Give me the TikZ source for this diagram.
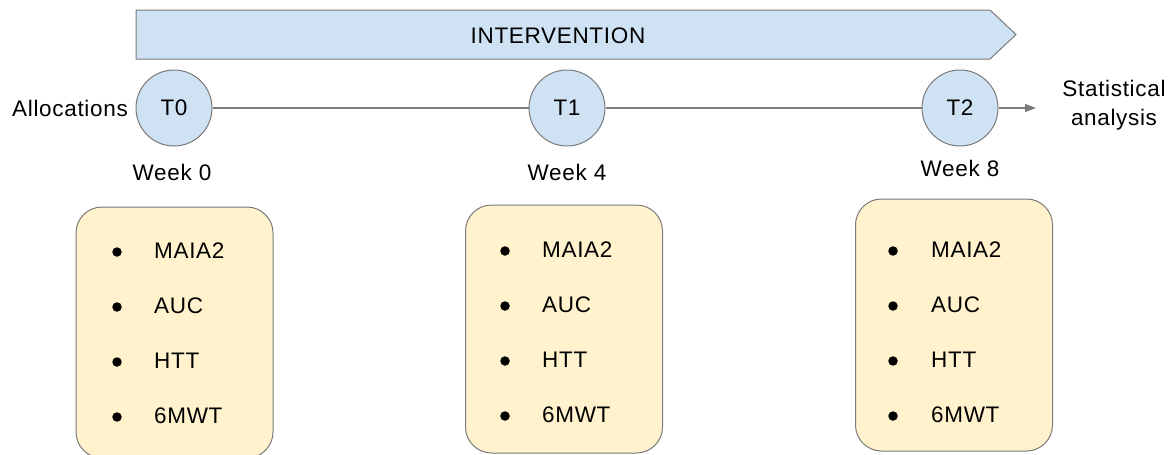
\documentclass[tikz,border=0pt]{standalone}
\usepackage{fontspec}
\setmainfont[LetterSpace=3]{Liberation Sans}
\usetikzlibrary{arrows.meta}
\definecolor{blueF}{HTML}{CFE2F3}
\definecolor{yelF}{HTML}{FFF2CC}
\definecolor{edge}{HTML}{7A7A7A}
\tikzset{
  lbl/.style={font=\fontsize{22.5}{29}\selectfont, text=black, inner sep=0pt},
  tpoint/.style={circle, draw=edge, line width=1pt, fill=blueF, minimum size=76pt, inner sep=0pt, font=\fontsize{22.5}{29}\selectfont},
  mbox/.style={rectangle, rounded corners=26pt, draw=edge, line width=1pt, fill=yelF, minimum width=197pt, inner sep=0pt},
  conn/.style={draw=edge, line width=1.2pt},
  bul/.style={circle, fill=black, inner sep=0pt, minimum size=9.5pt},
}
\begin{document}
\begin{tikzpicture}[x=1pt,y=-1pt]
\useasboundingbox (0,0) rectangle (1176,455);
% banner
\coordinate (b1) at (136,10);
\coordinate (b2) at (990,10);
\coordinate (b3) at (1016,34.5);
\coordinate (b4) at (990,59);
\coordinate (b5) at (136,59);
\draw[draw=edge, line width=1pt, fill=blueF] (b1) -- (b2) -- (b3) -- (b4) -- (b5) -- cycle;
\node[lbl] (interv) at (558,36) {INTERVENTION};
% time points
\node[tpoint] (t0) at (174,108) {T0};
\node[tpoint] (t1) at (567,108) {T1};
\node[tpoint] (t2) at (960,108) {T2};
\coordinate (end) at (1036,108);
\draw[conn] (t0) -- (t1);
\draw[conn] (t1) -- (t2);
\draw[conn, -{Triangle[length=11pt,width=8pt]}, color=edge] (t2) -- (end);
\node[lbl, anchor=east] (alloc) at (128,108) {Allocations};
\node[lbl, align=center] (stat) at (1114,105) {Statistical\\analysis};
\node[lbl] (w0) at (172,172) {Week 0};
\node[lbl] (w4) at (567,172) {Week 4};
\node[lbl] (w8) at (960,168) {Week 8};
% boxes
\node[mbox, minimum height=251pt] (box0) at (174.5,332.5) {};
\node[mbox, minimum height=248pt] (box1) at (564,329) {};
\node[mbox, minimum height=252pt] (box2) at (954,325) {};
% items
\foreach \bx/\tx/\nm/\yo in {117/154/a/0, 505/542/b/-1, 893/931/c/-1}{
  \node[bul] (\nm1b) at (\bx,252+\yo) {};
  \node[bul] (\nm2b) at (\bx,307+\yo) {};
  \node[bul] (\nm3b) at (\bx,362+\yo) {};
  \node[bul] (\nm4b) at (\bx,417+\yo) {};
  \node[lbl, anchor=west] (\nm1) at (\tx,251+\yo) {MAIA2};
  \node[lbl, anchor=west] (\nm2) at (\tx,306+\yo) {AUC};
  \node[lbl, anchor=west] (\nm3) at (\tx,361+\yo) {HTT};
  \node[lbl, anchor=west] (\nm4) at (\tx,416+\yo) {6MWT};
}
\end{tikzpicture}
\end{document}
